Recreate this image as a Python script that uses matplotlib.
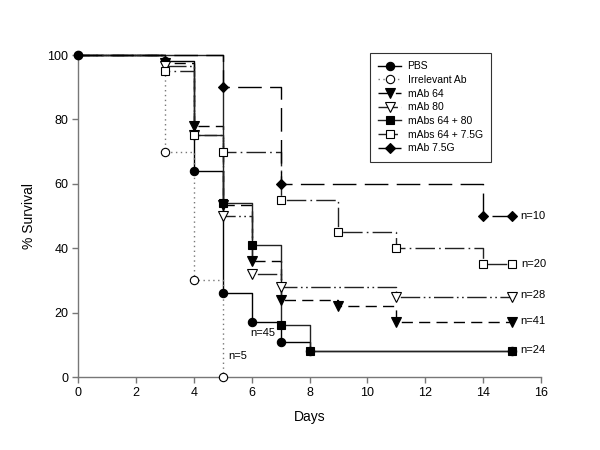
import matplotlib
matplotlib.use("Agg")
import matplotlib.pyplot as plt
from matplotlib.lines import Line2D

plt.rcParams['font.family'] = ['Liberation Sans', 'DejaVu Sans']

# ---- data ----
pbs_days = [0, 3, 4, 5, 6, 7, 8, 15]
pbs_surv = [100, 98, 64, 26, 17, 11, 8, 8]

irr_days = [0, 3, 4, 5]
irr_surv = [100, 70, 30, 0]

m64_days = [0, 3, 4, 5, 6, 7, 9, 11, 15]
m64_surv = [100, 97.5, 78, 53.5, 36, 24, 22, 17, 17]

m80_days = [0, 3, 4, 5, 6, 7, 11, 15]
m80_surv = [100, 96.5, 75, 50, 32, 28, 25, 25]

m6480_days = [0, 5, 6, 7, 8, 15]
m6480_surv = [100, 54, 41, 16, 8, 8]

m6475_days = [0, 3, 4, 5, 7, 9, 11, 14, 15]
m6475_surv = [100, 95, 75, 70, 55, 45, 40, 35, 35]

m75_days = [0, 5, 7, 14, 15]
m75_surv = [100, 90, 60, 50, 50]

labels = ["PBS", "Irrelevant Ab", "mAb 64", "mAb 80", "mAbs 64 + 80",
          "mAbs 64 + 7.5G", "mAb 7.5G"]

n_labels = ["n=10", "n=20", "n=28", "n=41", "n=24", "n=45", "n=5"]
n_pos = [(15.27, 50), (15.33, 35), (15.27, 25.5), (15.3, 17.3), (15.3, 8.4),
         (5.94, 13.6), (5.18, 6.5)]

x_ticks = [0, 2, 4, 6, 8, 10, 12, 14, 16]
y_ticks = [0, 20, 40, 60, 80, 100]

# ---- styles ----
series = [
    (pbs_days, pbs_surv, dict(color='black', ls='-', marker='o', mfc='black', ms=6.0)),
    (irr_days, irr_surv, dict(color='#777777', ls=(0, (1, 2.5)), marker='o', mfc='white', ms=6.0)),
    (m64_days, m64_surv, dict(color='black', ls=(0, (8, 4.5)), marker='v', mfc='black', ms=6.5)),
    (m80_days, m80_surv, dict(color='#222222', ls=(0, (14, 2.5, 1.2, 2.5, 1.2, 2.5)), marker='v', mfc='white', ms=6.5)),
    (m6480_days, m6480_surv, dict(color='#222222', ls='-', marker='s', mfc='black', ms=5.5)),
    (m6475_days, m6475_surv, dict(color='#222222', ls=(0, (14, 3, 1.2, 3)), marker='s', mfc='white', ms=5.5)),
    (m75_days, m75_surv, dict(color='black', ls=(0, (17, 6)), marker='D', mfc='black', ms=5.0)),
]

fig = plt.figure(figsize=(6, 4.5), dpi=100)
ax = fig.add_axes([78/600, 1-377/450, (541-78)/600, (377-55)/450])

handles = []
for (d, s, st), lab in zip(series, labels):
    ax.step(d, s, where='post', color=st['color'], ls=st['ls'], lw=1.0,
            clip_on=False, zorder=2)
    ax.plot(d[1:], s[1:], ls='none', marker=st['marker'], mfc=st['mfc'],
            mec='black', mew=0.8, ms=st['ms'], clip_on=False, zorder=3)
    handles.append(Line2D([], [], color=st['color'], ls=st['ls'], lw=1.0,
                          marker=st['marker'], mfc=st['mfc'], mec='black',
                          mew=0.8, ms=st['ms']))

# PBS marker at day 0
ax.plot(pbs_days[:1], pbs_surv[:1], ls='none', marker='o', mfc='black',
        mec='black', ms=6.0, clip_on=False, zorder=4)

for t, (x, y) in zip(n_labels, n_pos):
    ax.text(x, y, t, fontsize=8, ha='left', va='center')

ax.set_xlim(0, 16)
ax.set_ylim(0, 100)
ax.set_xticks(x_ticks)
ax.set_yticks(y_ticks)
for sp in ['top', 'right']:
    ax.spines[sp].set_visible(False)
for sp in ['left', 'bottom']:
    ax.spines[sp].set_color('#777777')
    ax.spines[sp].set_linewidth(1.0)
ax.tick_params(direction='out', length=4, width=1.0, color='#777777',
               labelsize=9, labelcolor='black', pad=3)
ax.set_xlabel("Days", fontsize=10, labelpad=8)
ax.set_ylabel("% Survival", fontsize=10, labelpad=8)

leg = fig.legend(handles, labels, loc='upper left',
                 bbox_to_anchor=(370/600, 1-53/450), bbox_transform=fig.transFigure,
                 borderaxespad=0, fontsize=7.5, fancybox=False, frameon=True,
                 handlelength=2.2, handletextpad=0.6, labelspacing=0.35,
                 borderpad=0.8)
leg.get_frame().set_edgecolor('black')
leg.get_frame().set_linewidth(0.8)

fig.savefig("out.png", dpi=100)
